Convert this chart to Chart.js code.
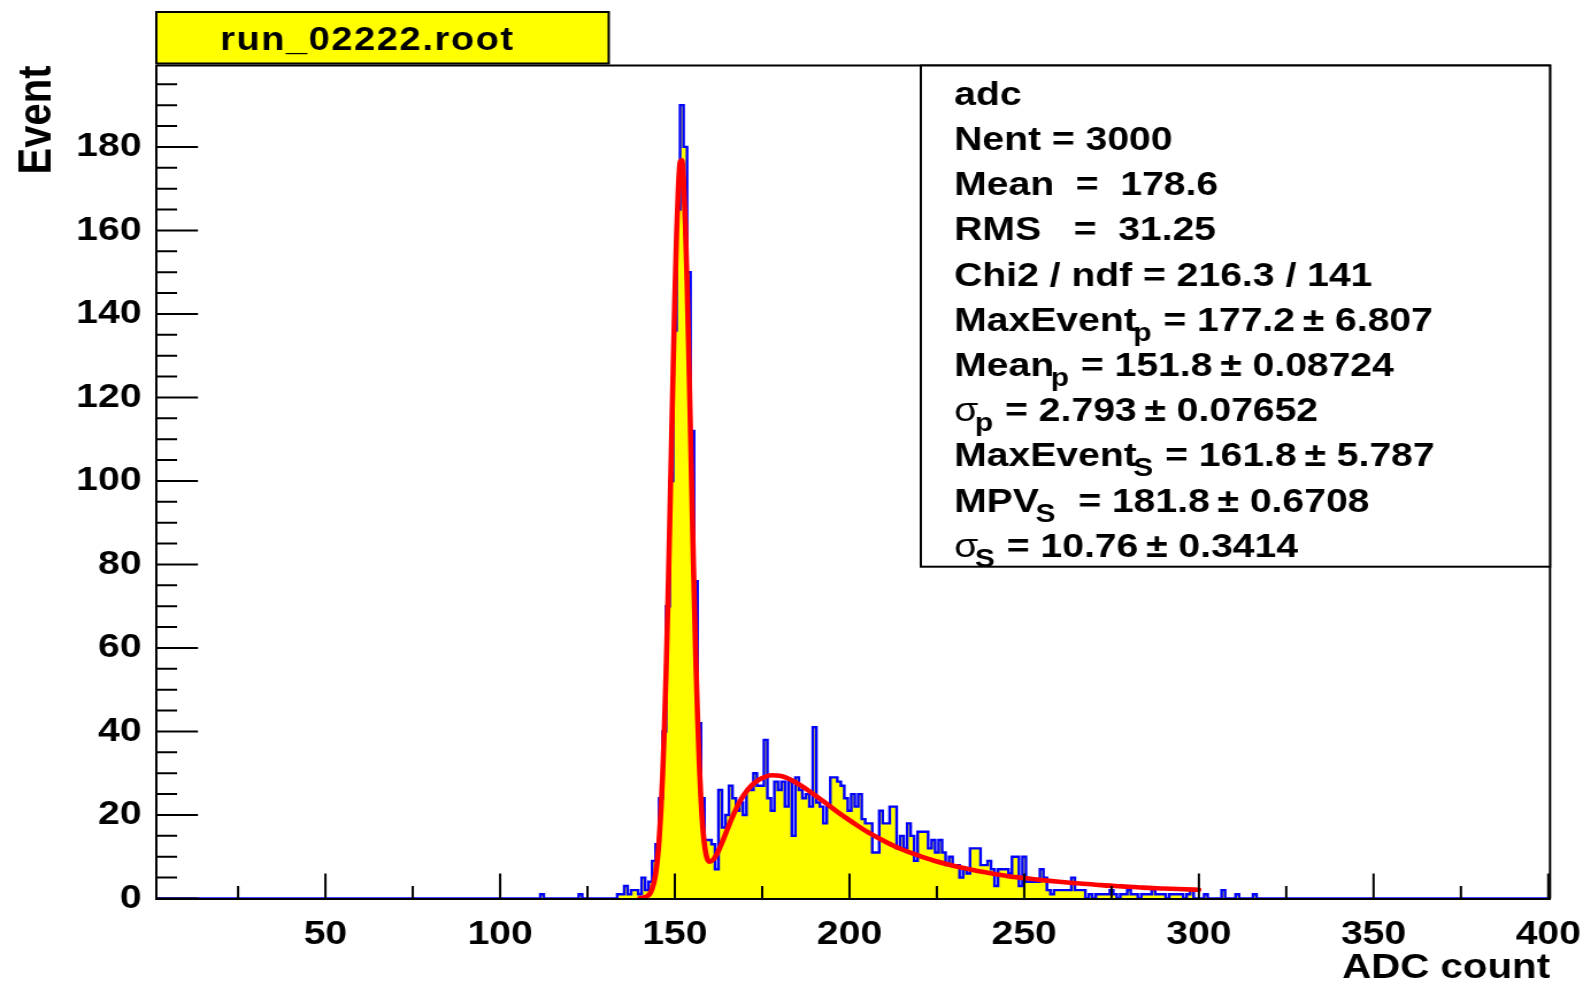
<!DOCTYPE html>
<html><head><meta charset="utf-8">
<script src="https://cdn.jsdelivr.net/npm/chart.js@4.4.1/dist/chart.umd.min.js"></script>
<style>
html,body{margin:0;padding:0;background:#fff;overflow:hidden;}
#wrap{width:1377px;height:982px;transform:scaleX(1.1496);transform-origin:0 0;}
canvas{display:block;}
</style></head><body>
<div id="wrap"><canvas id="c" width="1377" height="982"></canvas></div>
<script>
const FONT = "'Liberation Sans', Arial, Helvetica, sans-serif";

// ---- text ----
const histTitle = 'run_02222.root';
const xAxisTitle = 'ADC count';
const yAxisTitle = 'Event';

// ---- axes ----
const xRange = [1.5, 400.5];
const yRange = [0, 199.5];
const xTickValues = [50, 100, 150, 200, 250, 300, 350, 400];
const xTickLabels = ['50', '100', '150', '200', '250', '300', '350', '400'];
const xMinorStep = 25;
const yTickValues = [0, 20, 40, 60, 80, 100, 120, 140, 160, 180];
const yTickLabels = ['0', '20', '40', '60', '80', '100', '120', '140', '160', '180'];
const yMinorStep = 5;

// ---- histogram (bin width 1, bins centred on integer ADC values) ----
const binWidth = 1;
const firstBin = 2;
const lastBin = 400;
const histFirstBin = 112;
const histCounts = [
  1,0,0,0,0,0,0,0,0,0,        // 112-121
  0,1,0,0,0,0,0,0,0,0,        // 122-131
  0,0,1,1,3,1,2,2,1,5,        // 132-141
  2,4,9,13,24,40,70,100,136,165, // 142-151
  190,180,150,112,76,42,24,14,14,13, // 152-161
  7,26,17,20,27,24,21,23,20,26,  // 162-171
  26,30,27,27,38,24,21,28,26,28, // 172-181
  22,28,15,29,26,24,25,22,41,23, // 182-191
  22,18,22,29,29,28,27,24,21,25, // 192-201
  22,25,19,18,18,11,11,21,18,18, // 202-211
  22,22,12,15,12,18,15,9,16,16,  // 212-221
  16,12,14,11,14,11,8,10,8,8,    // 222-231
  5,7,6,12,12,12,8,8,9,7,        // 232-241
  3,7,7,7,6,10,10,3,10,4,        // 242-251
  4,4,4,7,5,2,1,2,2,2,           // 252-261
  2,2,5,2,2,2,0,1,0,1,           // 262-271
  1,1,1,2,1,0,1,1,2,1,           // 272-281
  1,0,1,1,1,2,1,1,1,0,           // 282-291
  1,1,1,1,0,1,2,0,0,0,           // 292-301
  1,0,0,0,0,2,0,0,0,1,           // 302-311
  0,0,0,0,1                      // 312-316
];

// ---- fit curve (gaussian pedestal + landau signal) ----
const fitX = [140,141,142,143,144,144.5,145,145.5,146,146.5,147,147.5,148,148.5,149,149.5,150,150.5,151,151.5,152,152.5,153,153.5,154,154.5,155,155.5,156,156.5,157,157.5,158,158.5,159,159.5,160,161,162,163,164,165,166,167,168,169,170,172,174,176,178,180,182,184,186,188,190,193,196,199,202,205,208,211,214,217,220,224,228,232,236,240,245,250,255,260,266,272,278,284,290,296,300];
const fitY = [0.1,0.2,0.5,1.3,3.7,5.9,9.2,14,20.6,29.4,40.6,54.3,70.3,88.3,107.3,126.4,144.1,159.1,170.1,176.3,176.8,171.8,161.7,147.4,130.1,111.2,92.1,74,57.6,43.6,32.2,23.4,17,12.8,10.3,9.1,8.8,9.3,10.6,12.4,14.4,16.5,18.6,20.5,22.3,23.8,25.1,27.1,28.4,29.2,29.5,29.4,28.9,28.1,27.1,26,24.8,23,21.1,19.3,17.6,16,14.6,13.3,12.1,11.1,10.2,9.1,8.2,7.4,6.7,6.1,5.4,4.9,4.4,4.0,3.6,3.2,2.9,2.6,2.4,2.2,2.1];

// ---- statistics box lines: [main, subscript, rest] ----
const statLines = [
  ['adc'],
  ['Nent = 3000'],
  ['Mean  =  178.6'],
  ['RMS   =  31.25'],
  ['Chi2 / ndf = 216.3 / 141'],
  ['MaxEvent', 'p', ' = 177.2\u2009\u00b1 6.807'],
  ['Mean', 'p', ' = 151.8\u2009\u00b1 0.08724'],
  ['\u03c3', 'p', ' = 2.793\u2009\u00b1 0.07652'],
  ['MaxEvent', 'S', ' = 161.8\u2009\u00b1 5.787'],
  ['MPV', 'S', '  = 181.8\u2009\u00b1 0.6708'],
  ['\u03c3', 'S', ' = 10.76\u2009\u00b1 0.3414']
];

// build histogram outline points from the bin contents
const histPoints = [];
for (let c = firstBin; c <= lastBin; c++) {
  const i = c - histFirstBin;
  const v = (i >= 0 && i < histCounts.length) ? histCounts[i] : 0;
  histPoints.push({x: c - binWidth / 2, y: v}, {x: c + binWidth / 2, y: v});
}
const fitPoints = fitX.map((xv, i) => ({x: xv, y: fitY[i]}));

const rootDecor = {
  id: 'rootDecor',
  afterDraw(chart) {
    const {ctx, chartArea: a, scales: {x, y}} = chart;
    ctx.save();
    ctx.strokeStyle = '#000';
    ctx.lineWidth = 2;
    // frame top + right
    ctx.beginPath();
    ctx.moveTo(a.left, a.top); ctx.lineTo(a.right, a.top); ctx.lineTo(a.right, a.bottom);
    ctx.stroke();
    // inward ticks
    ctx.beginPath();
    xTickValues.forEach(v => {
      const px = x.getPixelForValue(v);
      ctx.moveTo(px, a.bottom); ctx.lineTo(px, a.bottom - 25);
      const pm = x.getPixelForValue(v - xMinorStep);
      ctx.moveTo(pm, a.bottom); ctx.lineTo(pm, a.bottom - 12.5);
    });
    for (let v = yRange[0]; v <= yRange[1]; v += yMinorStep) {
      const py = y.getPixelForValue(v);
      const major = yTickValues.includes(v);
      ctx.moveTo(a.left, py); ctx.lineTo(a.left + (major ? 36.5 : 18.3), py);
    }
    ctx.stroke();

    // title box
    ctx.fillStyle = '#ffff00';
    ctx.fillRect(136, 12, 393.5, 51.5);
    ctx.lineWidth = 2;
    ctx.strokeRect(136, 12, 393.5, 51.5);
    ctx.fillStyle = '#000';
    ctx.font = `bold 33px ${FONT}`;
    ctx.textBaseline = 'alphabetic';
    ctx.textAlign = 'left';
    ctx.letterSpacing = '1.4px';
    ctx.fillText(histTitle, 191.5, 49.5);
    ctx.letterSpacing = '0px';

    // stats box
    const bx = 801, by = a.top, bw = a.right - 801, bh = 566.7 - a.top;
    ctx.fillStyle = '#fff';
    ctx.fillRect(bx, by, bw, bh);
    ctx.strokeRect(bx, by, bw, bh);
    ctx.fillStyle = '#000';
    statLines.forEach((ln, i) => {
      const base = 104.8 + 45.2 * i;
      let tx = 830;
      ctx.font = (ln[0] === '\u03c3' ? '' : 'bold ') + `34px ${FONT}`;
      ctx.fillText(ln[0], tx, base);
      tx += ctx.measureText(ln[0]).width;
      if (ln[1]) {
        tx -= 3;
        ctx.font = `bold 26px ${FONT}`;
        ctx.fillText(ln[1], tx, base + 10);
        tx += ctx.measureText(ln[1]).width + 1;
        ctx.font = `bold 34px ${FONT}`;
        ctx.fillText(ln[2], tx, base);
      }
    });
    ctx.restore();
  }
};

new Chart(document.getElementById('c'), {
  type: 'line',
  data: {
    datasets: [
      {label: 'fit', data: fitPoints, borderColor: '#ff0000', borderWidth: 4.6, pointRadius: 0,
       fill: false, cubicInterpolationMode: 'monotone', borderJoinStyle: 'round', borderCapStyle: 'round'},
      {label: 'adc', data: histPoints, borderColor: '#0000ff', backgroundColor: '#ffff00', borderWidth: 2.4,
       pointRadius: 0, fill: 'origin', tension: 0}
    ]
  },
  options: {
    responsive: false, animation: false, devicePixelRatio: 1,
    layout: {padding: {left: 0, top: 65.5, right: 28.7, bottom: 0}},
    plugins: {legend: {display: false}, tooltip: {enabled: false}},
    scales: {
      x: {
        type: 'linear', min: xRange[0], max: xRange[1],
        grid: {display: false, drawTicks: false, tickLength: 0},
        border: {display: true, color: '#000', width: 2, z: 1},
        afterBuildTicks: s => { s.ticks = xTickValues.map(v => ({value: v})); },
        afterFit: s => { s.height = 83.5; s.paddingLeft = 0; s.paddingRight = 0; },
        ticks: {autoSkip: false, maxRotation: 0, padding: 19.4, color: '#000',
                font: {family: FONT, size: 34, weight: 'bold', lineHeight: 1},
                callback: (v, i) => xTickLabels[i]},
        title: {display: true, text: xAxisTitle, align: 'end', color: '#000',
                font: {family: FONT, size: 35, weight: 'bold', lineHeight: 1}, padding: {top: 0, bottom: -4}}
      },
      y: {
        type: 'linear', min: yRange[0], max: yRange[1],
        grid: {display: false, drawTicks: false, tickLength: 0},
        border: {display: true, color: '#000', width: 2, z: 1},
        afterBuildTicks: s => { s.ticks = yTickValues.map(v => ({value: v})); },
        afterFit: s => { s.width = 135.7; s.paddingTop = 0; s.paddingBottom = 0; },
        ticks: {autoSkip: false, padding: 12.6, color: '#000',
                font: {family: FONT, size: 34, weight: 'bold', lineHeight: 1},
                callback: (v, i) => yTickLabels[i]},
        title: {display: true, text: yAxisTitle, align: 'end', color: '#000',
                font: {family: FONT, size: 40, weight: 'bold', lineHeight: 1}, padding: {top: 12.5, bottom: 0}}
      }
    }
  },
  plugins: [rootDecor]
});
</script>
</body></html>
